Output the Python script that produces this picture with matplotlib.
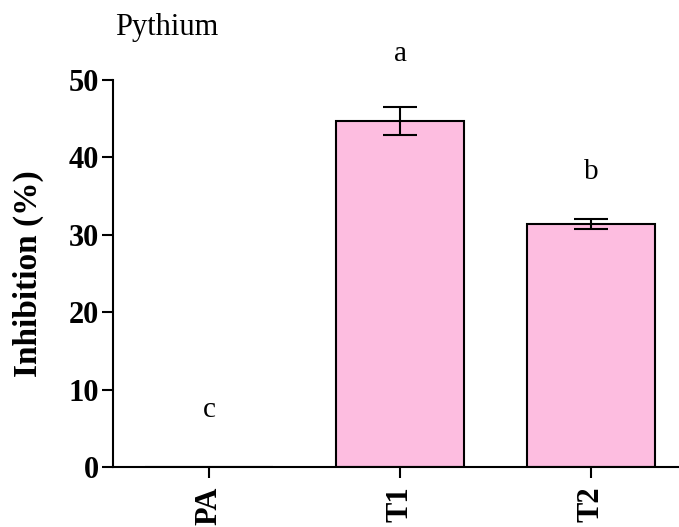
import matplotlib
matplotlib.use("Agg")
import matplotlib.pyplot as plt

categories = ["PA", "T1", "T2"]
values = [0.0, 44.7, 31.4]
errors = [0.0, 1.8, 0.65]
letters = ["c", "a", "b"]
letter_y = [7.3, 53.4, 38.1]
yticks = [0, 10, 20, 30, 40, 50]

plt.rcParams['font.family'] = ['Liberation Serif', 'DejaVu Serif']

fig = plt.figure(figsize=(6.79, 5.27), dpi=100)
ax = fig.add_axes([113/679, 1-467/527, 1-113/679, (467-80)/527])
x = range(len(categories))
ax.bar(x, values, width=0.665, color='#FDBDE0', edgecolor='black', linewidth=1.5, zorder=2)
ax.errorbar([1, 2], values[1:], yerr=errors[1:], fmt='none', ecolor='black',
            elinewidth=1.5, capsize=12, capthick=1.5, zorder=3)
for xi, t, ly in zip(x, letters, letter_y):
    ax.text(xi, ly, t, ha='center', va='center', fontsize=21, clip_on=False)

ax.set_xlim(-0.5026, 2.4607)
ax.set_ylim(0, 50)
ax.set_yticks(yticks)
ax.set_xticks(list(x))
ax.set_xticklabels(categories, rotation=90, fontsize=22, fontweight='bold')
ax.set_yticklabels([str(v) for v in yticks], fontsize=22, fontweight='bold')
ax.spines['top'].set_visible(False)
ax.spines['right'].set_visible(False)
ax.spines['left'].set_linewidth(1.5)
ax.spines['bottom'].set_linewidth(1.5)
ax.tick_params(axis='both', direction='out', length=8, width=1.5)
ax.tick_params(axis='y', pad=2)
ax.tick_params(axis='x', pad=6)
ax.set_ylabel("Inhibition (%)", fontsize=24, fontweight='bold', labelpad=18)
fig.text(115/679, 1-35/527, "Pythium", fontsize=22, ha='left', va='baseline')
fig.savefig("out.png", dpi=100)
